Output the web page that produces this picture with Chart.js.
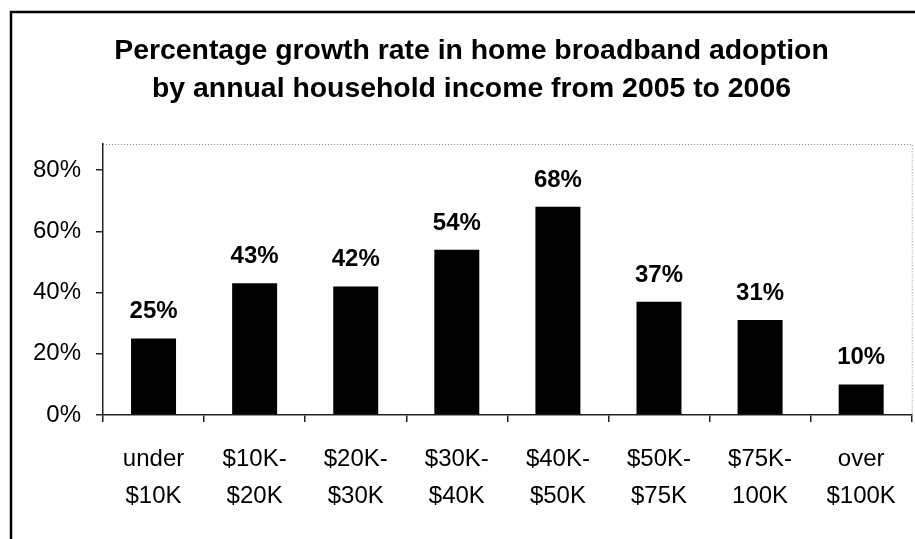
<!DOCTYPE html>
<html><head><meta charset="utf-8">
<script src="https://cdn.jsdelivr.net/npm/chart.js@4.4.1/dist/chart.umd.min.js"></script>
<style>html,body{margin:0;padding:0;background:#fff;}#wrap{width:915px;height:539px;position:relative;}</style>
</head><body><div id="wrap"><canvas id="c" width="915" height="539"></canvas></div>
<script>
const categories = [['under','$10K'],['$10K-','$20K'],['$20K-','$30K'],['$30K-','$40K'],['$40K-','$50K'],['$50K-','$75K'],['$75K-','100K'],['over','$100K']];
const growthPct = [25, 43, 42, 54, 68, 37, 31, 10];
const yTickValues = [0, 20, 40, 60, 80];
const titleLines = ['Percentage growth rate in home broadband adoption', 'by annual household income from 2005 to 2006'];

const FONT = "'Liberation Sans', Arial, Helvetica, sans-serif";

const framePlugin = {
  id: 'frame',
  beforeDraw(chart) {
    const ctx = chart.ctx;
    ctx.save();
    ctx.fillStyle = '#fff';
    ctx.fillRect(0, 0, chart.width, chart.height);
    ctx.strokeStyle = '#000';
    ctx.lineWidth = 2.5;
    ctx.beginPath();
    ctx.moveTo(11, chart.height + 2);
    ctx.lineTo(11, 12);
    ctx.lineTo(chart.width + 2, 12);
    ctx.stroke();
    const a = chart.chartArea;
    ctx.strokeStyle = '#888';
    ctx.lineWidth = 1;
    ctx.setLineDash([1, 2]);
    ctx.beginPath();
    ctx.moveTo(a.left, a.top + 0.5);
    ctx.lineTo(a.right + 0.5, a.top + 0.5);
    ctx.lineTo(a.right + 0.5, a.bottom);
    ctx.stroke();
    ctx.restore();
  }
};

const labelPlugin = {
  id: 'valueLabels',
  afterDatasetsDraw(chart) {
    const ctx = chart.ctx;
    const meta = chart.getDatasetMeta(0);
    ctx.save();
    ctx.font = 'bold 24px ' + FONT;
    ctx.fillStyle = '#000';
    ctx.textAlign = 'center';
    ctx.textBaseline = 'alphabetic';
    meta.data.forEach((bar, i) => {
      ctx.fillText(growthPct[i] + '%', bar.x, bar.y - 20);
    });
    ctx.restore();
  }
};

new Chart(document.getElementById('c'), {
  type: 'bar',
  data: {
    labels: categories,
    datasets: [{
      data: growthPct,
      backgroundColor: '#000',
      borderWidth: 0,
      barPercentage: 0.445,
      categoryPercentage: 1
    }]
  },
  options: {
    responsive: false,
    devicePixelRatio: 1,
    animation: false,
    layout: { padding: { left: 30, right: 2, top: 12, bottom: 5 } },
    plugins: {
      legend: { display: false },
      tooltip: { enabled: false },
      title: {
        display: true,
        text: titleLines,
        color: '#000',
        font: { family: FONT, size: 28.4, weight: 'bold', lineHeight: 38 / 28.4 },
        padding: { top: 20, bottom: 36 }
      }
    },
    scales: {
      x: {
        grid: { offset: true, drawOnChartArea: false, drawTicks: true, tickLength: 7, color: '#222', lineWidth: 1.5 },
        border: { display: true, color: '#222', width: 1.5 },
        ticks: {
          color: '#000',
          font: { family: FONT, size: 24, lineHeight: 37 / 24 },
          padding: 19,
          maxRotation: 0,
          autoSkip: false
        }
      },
      y: {
        min: 0,
        max: 88.5,
        afterBuildTicks(scale) { scale.ticks = yTickValues.map(v => ({ value: v })); },
        afterFit(scale) { scale.width = 73; },
        grid: { drawOnChartArea: false, drawTicks: true, tickLength: 7, color: '#222', lineWidth: 1.5 },
        border: { display: true, color: '#222', width: 1.5 },
        ticks: {
          color: '#000',
          font: { family: FONT, size: 24 },
          padding: 15,
          callback: v => v + '%'
        }
      }
    }
  },
  plugins: [framePlugin, labelPlugin]
});
</script>
</body></html>
